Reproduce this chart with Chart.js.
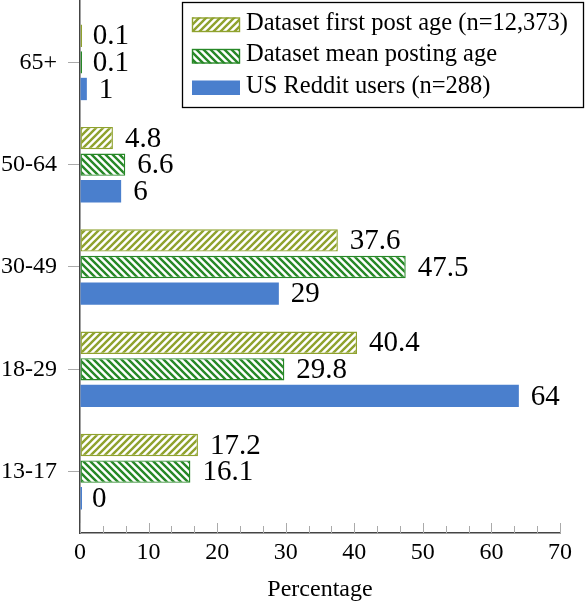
<!DOCTYPE html>
<html><head><meta charset="utf-8">
<script src="https://cdn.jsdelivr.net/npm/chart.js@4"></script>
<style>html,body{margin:0;padding:0;background:#fff;} canvas{display:block;}</style>
</head><body>
<canvas id="c" width="586" height="602"></canvas>
<script>
const categories = ['13-17', '18-29', '30-49', '50-64', '65+'];
const firstPostAge = [17.2, 40.4, 37.6, 4.8, 0.1];
const meanPostingAge = [16.1, 29.8, 47.5, 6.6, 0.1];
const usRedditUsers = [0, 64, 29, 6, 1];
const seriesLabels = ['Dataset first post age (n=12,373)', 'Dataset mean posting age', 'US Reddit users (n=288)'];
const xTicks = [0, 10, 20, 30, 40, 50, 60, 70];
const xTitle = 'Percentage';

const OLIVE = '#8fa22e', GREEN = '#278827', BLUE = '#4a7fcd';
const FONT = 'Liberation Serif';

const canvas = document.getElementById('c');
const ctx = canvas.getContext('2d');

function hatch(color, dir) {
  const s = 7;
  const c = document.createElement('canvas');
  c.width = s; c.height = s;
  const g = c.getContext('2d');
  g.fillStyle = '#fff'; g.fillRect(0, 0, s, s);
  g.strokeStyle = color; g.lineWidth = 2.4; g.lineCap = 'square';
  g.beginPath();
  if (dir === 'ne') {
    g.moveTo(-1, s + 1); g.lineTo(s + 1, -1);
    g.moveTo(-2, 2); g.lineTo(2, -2);
    g.moveTo(s - 2, s + 2); g.lineTo(s + 2, s - 2);
  } else {
    g.moveTo(-1, -1); g.lineTo(s + 1, s + 1);
    g.moveTo(s - 2, -2); g.lineTo(s + 2, 2);
    g.moveTo(-2, s - 2); g.lineTo(2, s + 2);
  }
  g.stroke();
  return ctx.createPattern(c, 'repeat');
}

const toPts = arr => arr.map((v, i) => ({ x: v, y: i }));

const xInsideTicks = {
  id: 'xInsideTicks',
  beforeDatasetsDraw(chart) {
    const xs = chart.scales.x, y0 = chart.chartArea.bottom;
    const c = chart.ctx;
    c.save();
    c.strokeStyle = '#aaa'; c.lineWidth = 1;
    for (let k = 0; k < xTicks.length; k++) {
      const v = xTicks[k];
      const px = Math.round(xs.getPixelForValue(v)) + 0.5;
      c.beginPath(); c.moveTo(px, y0); c.lineTo(px, y0 - 10); c.stroke();
      if (k < xTicks.length - 1) {
        const step = (xTicks[k + 1] - v) / 3;
        for (let m = 1; m < 3; m++) {
          const mp = Math.round(xs.getPixelForValue(v + m * step)) + 0.5;
          c.beginPath(); c.moveTo(mp, y0); c.lineTo(mp, y0 - 7); c.stroke();
        }
      }
    }
    c.restore();
  }
};

const dataLabels = {
  id: 'dataLabels',
  afterDatasetsDraw(chart) {
    const c = chart.ctx, xs = chart.scales.x;
    c.save();
    c.fillStyle = '#000';
    c.font = '29px "' + FONT + '"';
    c.textAlign = 'left'; c.textBaseline = 'middle';
    chart.data.datasets.forEach((ds, di) => {
      const meta = chart.getDatasetMeta(di);
      meta.data.forEach((el, i) => {
        const v = ds.data[i].x;
        c.fillText(String(v), xs.getPixelForValue(v) + 12, el.y + 1);
      });
    });
    c.restore();
  }
};

const legendBox = {
  id: 'legendBox',
  afterDraw(chart) {
    const c = chart.ctx;
    c.save();
    c.fillStyle = '#fff';
    c.fillRect(182, 2, 402, 106);
    c.strokeStyle = '#000'; c.lineWidth = 1.3;
    c.strokeRect(182.5, 2.5, 401, 105);
    const baselines = [29.5, 61, 92.5];
    c.font = '24.5px "' + FONT + '"';
    c.textAlign = 'left'; c.textBaseline = 'alphabetic';
    chart.data.datasets.forEach((ds, i) => {
      const b = baselines[i];
      c.fillStyle = ds.backgroundColor;
      c.fillRect(192, b - 12, 48, 14.5);
      if (ds.borderWidth) {
        c.strokeStyle = ds.borderColor; c.lineWidth = 1.4;
        c.strokeRect(192.5, b - 11.5, 47, 13.5);
      }
      c.fillStyle = '#000';
      c.fillText(ds.label, 246, b);
    });
    c.restore();
  }
};

new Chart(ctx, {
  type: 'bar',
  data: {
    datasets: [
      { label: seriesLabels[0], data: toPts(firstPostAge), backgroundColor: hatch(OLIVE, 'ne'), borderColor: OLIVE, borderWidth: 1.4, borderSkipped: false, minBarLength: 2 },
      { label: seriesLabels[1], data: toPts(meanPostingAge), backgroundColor: hatch(GREEN, 'nw'), borderColor: GREEN, borderWidth: 1.4, borderSkipped: false, minBarLength: 2 },
      { label: seriesLabels[2], data: toPts(usRedditUsers), backgroundColor: BLUE, borderWidth: 0, minBarLength: 2 }
    ]
  },
  options: {
    indexAxis: 'y',
    responsive: false,
    animation: false,
    categoryPercentage: 0.78,
    barPercentage: 0.84,
    layout: { padding: { top: 1, right: 26, bottom: 0, left: 0 } },
    plugins: { legend: { display: false }, tooltip: { enabled: false } },
    scales: {
      x: {
        type: 'linear', min: 0, max: 70, offset: false,
        afterBuildTicks: s => { s.ticks = xTicks.map(v => ({ value: v })); },
        afterFit: s => { s.height = 69; s.paddingLeft = 0; s.paddingRight = 0; },
        grid: { drawOnChartArea: false, drawTicks: false, offset: false },
        border: { display: true, color: '#444', width: 1.5 },
        ticks: { color: '#000', font: { family: FONT, size: 24, lineHeight: 1 }, padding: 8, maxRotation: 0 },
        title: { display: true, text: xTitle, color: '#000', font: { family: FONT, size: 24, lineHeight: 1 }, padding: { top: 13, bottom: 0 } }
      },
      y: {
        type: 'linear', min: -0.6, max: 4.6, offset: false,
        afterBuildTicks: s => { s.ticks = categories.map((_, i) => ({ value: i })); },
        afterFit: s => { s.width = 80; s.paddingTop = 0; s.paddingBottom = 0; },
        grid: { drawOnChartArea: false, drawTicks: true, tickLength: 12, color: '#aaa', offset: false },
        border: { display: true, color: '#444', width: 1.5 },
        ticks: { color: '#000', font: { family: FONT, size: 24, lineHeight: 1 }, padding: 11, callback: v => categories[v] }
      }
    }
  },
  plugins: [xInsideTicks, dataLabels, legendBox]
});
</script>
</body></html>
